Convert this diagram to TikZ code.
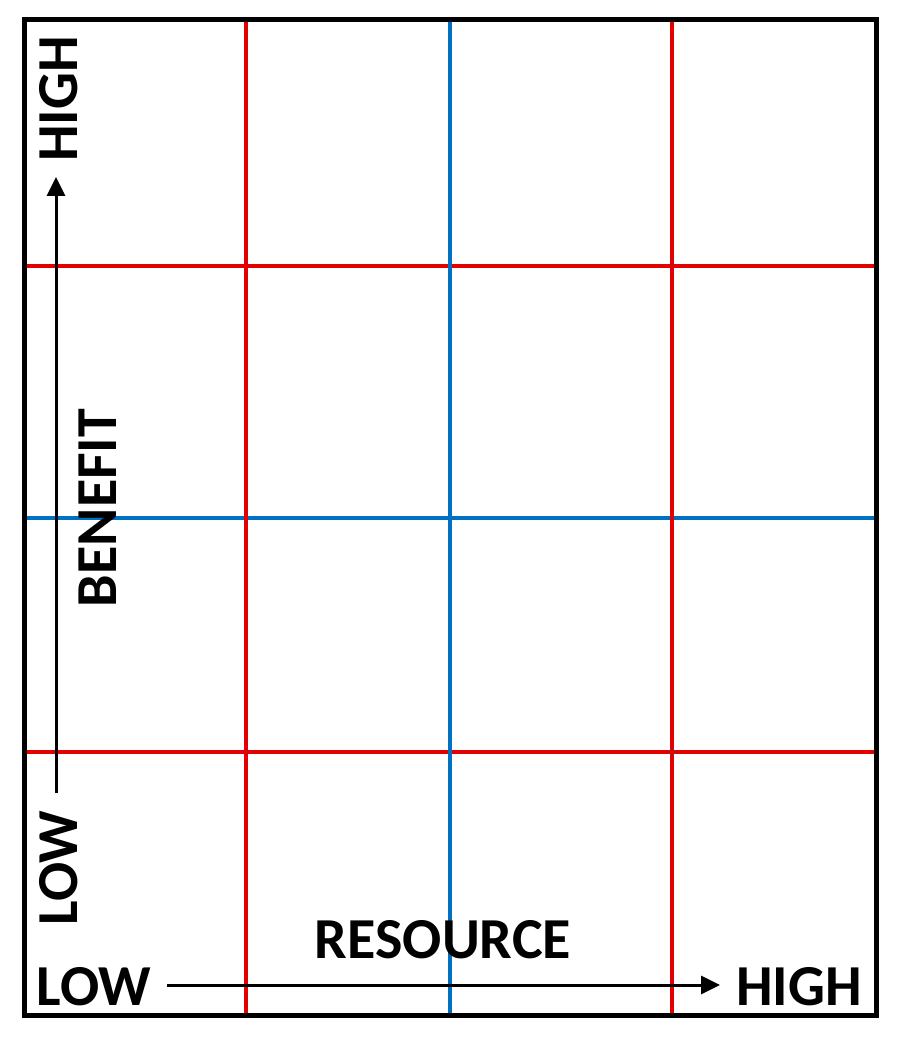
\documentclass[tikz,border=0pt]{standalone}
\usepackage{fontspec}
\setmainfont{Carlito}
\usetikzlibrary{arrows.meta}
\definecolor{gridred}{RGB}{226,0,0}
\definecolor{gridblue}{RGB}{0,112,192}
\begin{document}
\begin{tikzpicture}[x=1pt,y=-1pt,
 lbl/.style={font=\fontsize{58}{58}\selectfont\bfseries, inner sep=0pt, anchor=base},
 frame/.style={line width=5pt, black},
 redline/.style={line width=4pt, gridred},
 blueline/.style={line width=4pt, gridblue},
 axis/.style={line width=3pt, -{Triangle[length=19pt,width=18pt]}}]
\useasboundingbox (0,0) rectangle (898,1056);
\fill[white] (0,0) rectangle (898,1056);
% grid lines
\coordinate (r1t) at (246,20); \coordinate (r1b) at (246,1015);
\coordinate (r2t) at (672,20); \coordinate (r2b) at (672,1015);
\coordinate (b1t) at (450,20); \coordinate (b1b) at (450,1015);
\coordinate (h1l) at (24,266); \coordinate (h1r) at (876,266);
\coordinate (h2l) at (24,752); \coordinate (h2r) at (876,752);
\coordinate (h3l) at (24,518); \coordinate (h3r) at (876,518);
\draw[redline] (h1l) -- (h1r);
\draw[redline] (h2l) -- (h2r);
\draw[blueline] (h3l) -- (h3r);
\draw[redline] (r1t) -- (r1b);
\draw[redline] (r2t) -- (r2b);
\draw[blueline] (b1t) -- (b1b);
% frame
\draw[frame] (24,20) rectangle (876,1015);
% labels
\node[lbl, rotate=90] (vhigh) at (77,99) {HIGH};
\node[lbl, rotate=90] (vlow) at (77,868) {LOW};
\node[lbl, rotate=90] (benefit) at (116,508) {BENEFIT};
\node[lbl] (hlow) at (94,1005) {LOW};
\node[lbl] (hhigh) at (799,1005) {HIGH};
\node[lbl] (resource) at (443,958) {RESOURCE};
% axes
\coordinate (vs) at (56,793); \coordinate (ve) at (56,177);
\coordinate (hs) at (167,985); \coordinate (he) at (720,985);
\draw[axis] (vs) -- (ve);
\draw[axis] (hs) -- (he);
\end{tikzpicture}
\end{document}
